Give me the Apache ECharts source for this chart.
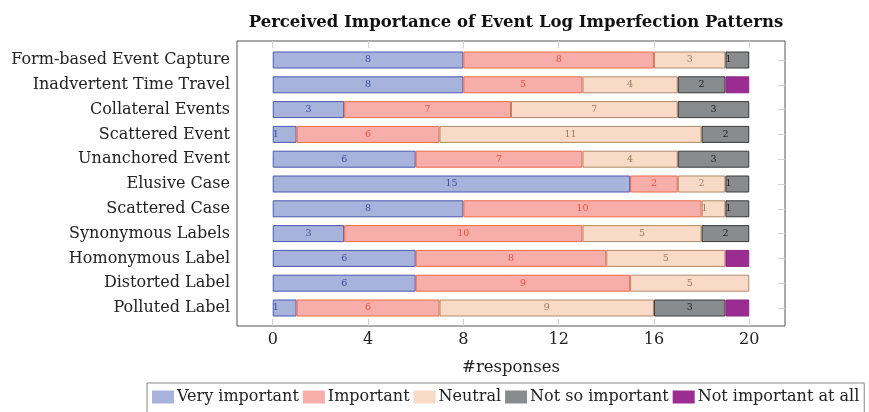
<!DOCTYPE html>
<html>
<head>
<meta charset="utf-8">
<script src="https://cdn.jsdelivr.net/npm/echarts@6/dist/echarts.min.js"></script>
<style>html,body{margin:0;padding:0;background:#fff;}#c{width:869px;height:412px;}</style>
</head>
<body>
<div id="c"></div>
<script>
const categories = ["Form-based Event Capture","Inadvertent Time Travel","Collateral Events","Scattered Event","Unanchored Event","Elusive Case","Scattered Case","Synonymous Labels","Homonymous Label","Distorted Label","Polluted Label"];
const seriesNames = ["Very important","Important","Neutral","Not so important","Not important at all"];
const veryImportant = [8,8,3,1,6,15,8,3,6,6,1];
const important = [8,5,7,6,7,2,10,10,8,9,6];
const neutral = [3,4,7,11,4,2,1,5,5,5,9];
const notSoImportant = [1,2,3,2,3,1,1,2,0,0,3];
const notImportantAtAll = [0,1,0,0,0,0,0,0,1,0,1];
const xTicks = [0,4,8,12,16,20];

const FONT = "DejaVu Serif";
const fills = ['#a7b3da','#f7aeaa','#f9dac6','#898b8c','#9b2c92'];
const borders = ['#4b57b0','#ee6a45','#b08a6a','#3a3a3a','#8e2a86'];
const labelColors = ['#3f4ca6','#f0503a','#a07a5a','#222222',null];
const allData = [veryImportant, important, neutral, notSoImportant, notImportantAtAll];

const series = allData.map((arr, si) => ({
  name: seriesNames[si],
  type: 'bar',
  stack: 'total',
  xAxisIndex: 0, yAxisIndex: 0,
  barWidth: 17,
  itemStyle: {color: fills[si], borderColor: borders[si], borderWidth: 1},
  data: arr.map(v => {
    if (v === 0) return {value: 0, itemStyle: {borderWidth: 0, opacity: 0}, label: {show: false}};
    const d = {value: v};
    if (si === 4) d.label = {show: false};
    else if (v === 1) d.label = {show: true, position: 'insideLeft', distance: 0};
    return d;
  }),
  label: {
    show: labelColors[si] !== null,
    position: 'inside',
    fontFamily: FONT, fontSize: 9.5,
    color: labelColors[si] || '#000'
  }
}));

const chart = echarts.init(document.getElementById('c'));
chart.setOption({
  animation: false,
  title: {
    text: 'Perceived Importance of Event Log Imperfection Patterns',
    left: 511, top: 9, textAlign: 'center',
    textStyle: {fontFamily: FONT, fontWeight: 'bold', fontSize: 16.5, color: '#111'}
  },
  legend: {
    left: 147, top: 383,
    data: seriesNames,
    icon: 'rect', itemWidth: 22, itemHeight: 13, itemGap: 4,
    borderColor: '#888', borderWidth: 1, padding: [6, 5, 8, 5],
    textStyle: {fontFamily: FONT, fontSize: 16, color: '#222', padding: [0,0,0,-2]},
    itemStyle: {borderWidth: 0}
  },
  grid: [
    {left: 237, right: 84, top: 47.6, bottom: 91.6, containLabel: false},
    {left: 237, right: 84, top: 41, bottom: 86, show: true, borderColor: '#555', borderWidth: 1, backgroundColor: 'transparent', containLabel: false}
  ],
  xAxis: [
    {gridIndex: 0, type: 'value', min: -1.5, max: 21.5, show: false},
    {gridIndex: 1, type: 'value', min: -1.5, max: 21.5, position: 'bottom',
     axisLine: {show: false}, splitLine: {show: false},
     axisTick: {show: true, inside: true, length: 7, lineStyle: {color: '#d0d0d0'}, customValues: xTicks},
     axisLabel: {show: true, customValues: xTicks, fontFamily: FONT, fontSize: 16, color: '#222', margin: 6},
     name: '#responses', nameLocation: 'middle', nameGap: 33,
     nameTextStyle: {fontFamily: FONT, fontSize: 16.5, color: '#222'}},
    {gridIndex: 1, type: 'value', min: -1.5, max: 21.5, position: 'top',
     axisLine: {show: false}, splitLine: {show: false},
     axisTick: {show: true, inside: true, length: 7, lineStyle: {color: '#d0d0d0'}, customValues: xTicks},
     axisLabel: {show: false}}
  ],
  yAxis: [
    {gridIndex: 0, type: 'category', data: categories, inverse: true,
     axisLine: {show: false},
     axisTick: {show: true, inside: true, alignWithLabel: true, length: 7, lineStyle: {color: '#d0d0d0'}},
     axisLabel: {fontFamily: FONT, fontSize: 16, color: '#222', margin: 7}},
    {gridIndex: 0, type: 'category', data: categories, inverse: true, position: 'right',
     axisLine: {show: false},
     axisTick: {show: true, inside: true, alignWithLabel: true, length: 7, lineStyle: {color: '#d0d0d0'}},
     axisLabel: {show: false}},
    {gridIndex: 1, type: 'value', show: false}
  ],
  series: series
});
</script>
</body>
</html>
